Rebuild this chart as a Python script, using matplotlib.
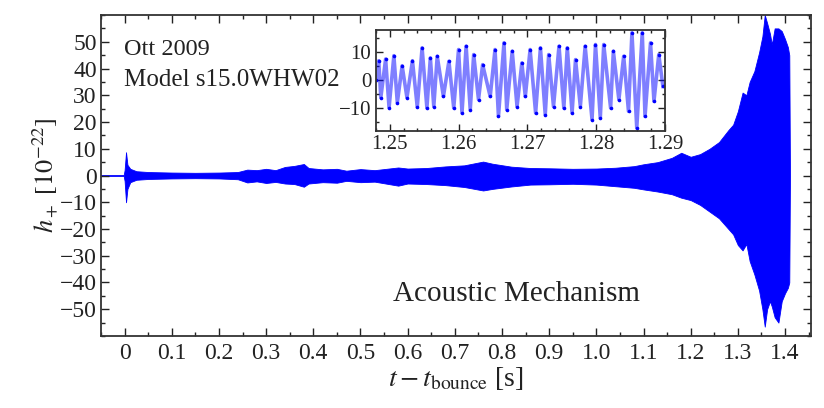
import matplotlib as mpl
mpl.use('Agg')

import matplotlib.pyplot as plt
from matplotlib.ticker import MultipleLocator, FuncFormatter

plt.rcParams['font.family'] = ['Liberation Serif', 'DejaVu Serif']
plt.rcParams['mathtext.fontset'] = 'stix'

# envelope of the main waveform (t in s, h in 1e-22)
env_t = [-0.05, -0.002, 0.0, 0.003, 0.006, 0.012, 0.025, 0.05, 0.10, 0.15,
         0.20, 0.24, 0.26, 0.28, 0.30, 0.32, 0.34, 0.36, 0.38, 0.39,
         0.42, 0.45, 0.47, 0.50, 0.53, 0.56, 0.58, 0.60, 0.64, 0.68,
         0.72, 0.76, 0.78, 0.82, 0.86, 0.90, 0.95, 1.00, 1.04, 1.08,
         1.10, 1.13, 1.16, 1.18, 1.20, 1.22, 1.24, 1.26, 1.28, 1.29,
         1.30, 1.31, 1.318, 1.325, 1.335, 1.345, 1.352, 1.357, 1.362, 1.368,
         1.372, 1.378, 1.386, 1.393, 1.400, 1.406, 1.409, 1.4105]
env_up = [0.15, 0.15, 2.0, 8.7, 4.0, 2.5, 1.6, 1.3, 1.1, 1.0,
          1.1, 1.3, 2.2, 2.0, 2.5, 2.0, 3.2, 3.6, 4.3, 2.8,
          2.3, 2.5, 1.8, 2.4, 2.0, 2.6, 3.0, 2.6, 2.8, 3.4,
          3.8, 5.2, 4.4, 3.3, 2.8, 2.7, 2.5, 2.6, 2.9, 3.5,
          4.2, 5.0, 6.6, 8.5, 7.0, 8.0, 10.0, 12.5, 17.0, 19.0,
          24.0, 31.0, 30.0, 35.0, 39.0, 46.0, 52.0, 60.0, 57.0, 53.0,
          49.0, 55.0, 55.0, 54.0, 51.0, 48.0, 45.0, 0.0]
env_lo = [-0.15, -0.15, -2.0, -10.0, -5.0, -2.5, -1.6, -1.3, -1.1, -1.0,
          -1.1, -1.4, -2.6, -2.2, -2.8, -2.4, -3.0, -3.2, -4.2, -3.0,
          -2.5, -2.7, -2.0, -2.5, -2.3, -3.2, -3.8, -3.0, -3.2, -3.6,
          -4.3, -5.6, -5.0, -4.1, -3.4, -3.3, -3.1, -3.4, -4.0, -4.6,
          -5.2, -6.0, -7.0, -8.3, -9.2, -11.0, -13.5, -16.0, -20.0, -22.0,
          -26.0, -28.0, -25.6, -32.0, -37.0, -43.0, -50.0, -56.5, -50.0, -47.0,
          -49.0, -53.0, -55.0, -47.0, -44.0, -42.0, -40.0, 0.0]

# extrema of the zoomed-in oscillation
ins_t = [1.2480, 1.2484, 1.2487, 1.2494, 1.2499, 1.2506, 1.2511, 1.2518, 1.2525, 1.2533,
         1.2540, 1.2547, 1.2554, 1.2559, 1.2564, 1.2569, 1.2578, 1.2586, 1.2593, 1.2600,
         1.2605, 1.2611, 1.2617, 1.2622, 1.2629, 1.2635, 1.2646, 1.2653, 1.2658, 1.2666,
         1.2670, 1.2678, 1.2685, 1.2692, 1.2697, 1.2704, 1.2712, 1.2719, 1.2726, 1.2731,
         1.2738, 1.2746, 1.2753, 1.2758, 1.2765, 1.2770, 1.2777, 1.2784, 1.2794, 1.2799,
         1.2806, 1.2811, 1.2821, 1.2825, 1.2833, 1.2840, 1.2847, 1.2852, 1.2859, 1.2867,
         1.2871, 1.2879, 1.2884, 1.2891, 1.2897]
ins_h = [0.0, 7.0, -6.2, 7.6, -9.8, 8.8, -8.0, 5.2, -6.2, 7.0,
         -9.6, 11.6, -9.9, 8.0, -9.4, 8.6, -5.8, 6.8, -9.9, 11.0,
         -11.7, 12.2, -10.5, 9.2, -6.9, 5.6, -5.8, 11.0, -12.9, 13.4,
         -10.5, 10.4, -9.4, 6.2, -5.8, 11.0, -11.7, 11.6, -12.3, 9.2,
         -9.4, 12.2, -9.9, 11.6, -11.7, 7.4, -9.4, 12.2, -14.1, 12.8,
         -13.5, 12.8, -9.9, 10.4, -6.9, 8.6, -11.1, 17.0, -17.1, 17.0,
         -12.9, 13.4, -7.5, 9.2, -2.2]

xticks = [0, 0.1, 0.2, 0.3, 0.4, 0.5, 0.6, 0.7, 0.8, 0.9, 1.0, 1.1, 1.2, 1.3, 1.4]
yticks = [-50, -40, -30, -20, -10, 0, 10, 20, 30, 40, 50]


def minus_fmt(v, p):
    return '%d' % round(v) if v >= 0 else '\u2212%d' % round(-v)


def style_ticks(ax, size, major=6, minor=3):
    ax.tick_params(which='both', direction='in', top=True, right=True,
                   width=1.0, colors='#222222', labelcolor='#222222', labelsize=size)
    ax.tick_params(which='major', length=major)
    ax.tick_params(which='minor', length=minor)
    for s in ax.spines.values():
        s.set_linewidth(1.3)
        s.set_color('#333333')


fig = plt.figure(figsize=(8.24, 4.08), dpi=100)
ax = fig.add_axes([0.1226, 0.1765, 0.8616, 0.7867])

ax.fill_between(env_t, env_lo, env_up, color='blue', lw=0.6, edgecolor='blue')
ax.set_xlim(-0.05, 1.455)
ax.set_ylim(-60, 60)
ax.set_xticks(xticks)
ax.set_yticks(yticks)
ax.xaxis.set_minor_locator(MultipleLocator(0.05))
ax.yaxis.set_minor_locator(MultipleLocator(5))
ax.xaxis.set_major_formatter(FuncFormatter(lambda v, p: '0' if abs(v) < 1e-9 else '%.1f' % v))
ax.yaxis.set_major_formatter(FuncFormatter(minus_fmt))
style_ticks(ax, 17)
ax.tick_params(axis='x', pad=5)
ax.tick_params(axis='y', pad=3)

ax.set_xlabel(r'$t - t_{\rm bounce}$ [s]', fontsize=20, color='#222222', labelpad=1)
ax.set_ylabel(r'$h_+$ [$10^{-22}$]', fontsize=19, color='#222222', labelpad=0)

ax.text(0.032, 0.894, 'Ott 2009', transform=ax.transAxes, fontsize=17.5,
        va='center', color='#222222')
ax.text(0.032, 0.797, 'Model s15.0WHW02', transform=ax.transAxes, fontsize=18,
        va='center', color='#222222')
ax.text(0.585, 0.131, 'Acoustic Mechanism', transform=ax.transAxes, fontsize=21,
        va='center', ha='center', color='#222222')

# inset
axi = fig.add_axes([0.4563, 0.680, 0.3507, 0.2465])
axi.plot(ins_t, ins_h, color='blue', lw=2.6, alpha=0.5)
axi.plot(ins_t, ins_h, 'o', color='blue', ms=2.6, mew=0)
axi.set_xlim(1.248, 1.29)
axi.set_ylim(-18, 18)
axi.set_xticks([1.25, 1.26, 1.27, 1.28, 1.29])
axi.set_yticks([-10, 0, 10])
axi.xaxis.set_minor_locator(MultipleLocator(0.002))
axi.yaxis.set_minor_locator(MultipleLocator(5))
axi.xaxis.set_major_formatter(FuncFormatter(lambda v, p: '%.2f' % v))
axi.yaxis.set_major_formatter(FuncFormatter(minus_fmt))
style_ticks(axi, 15, major=5, minor=2.5)

fig.savefig('out.png', dpi=100)
